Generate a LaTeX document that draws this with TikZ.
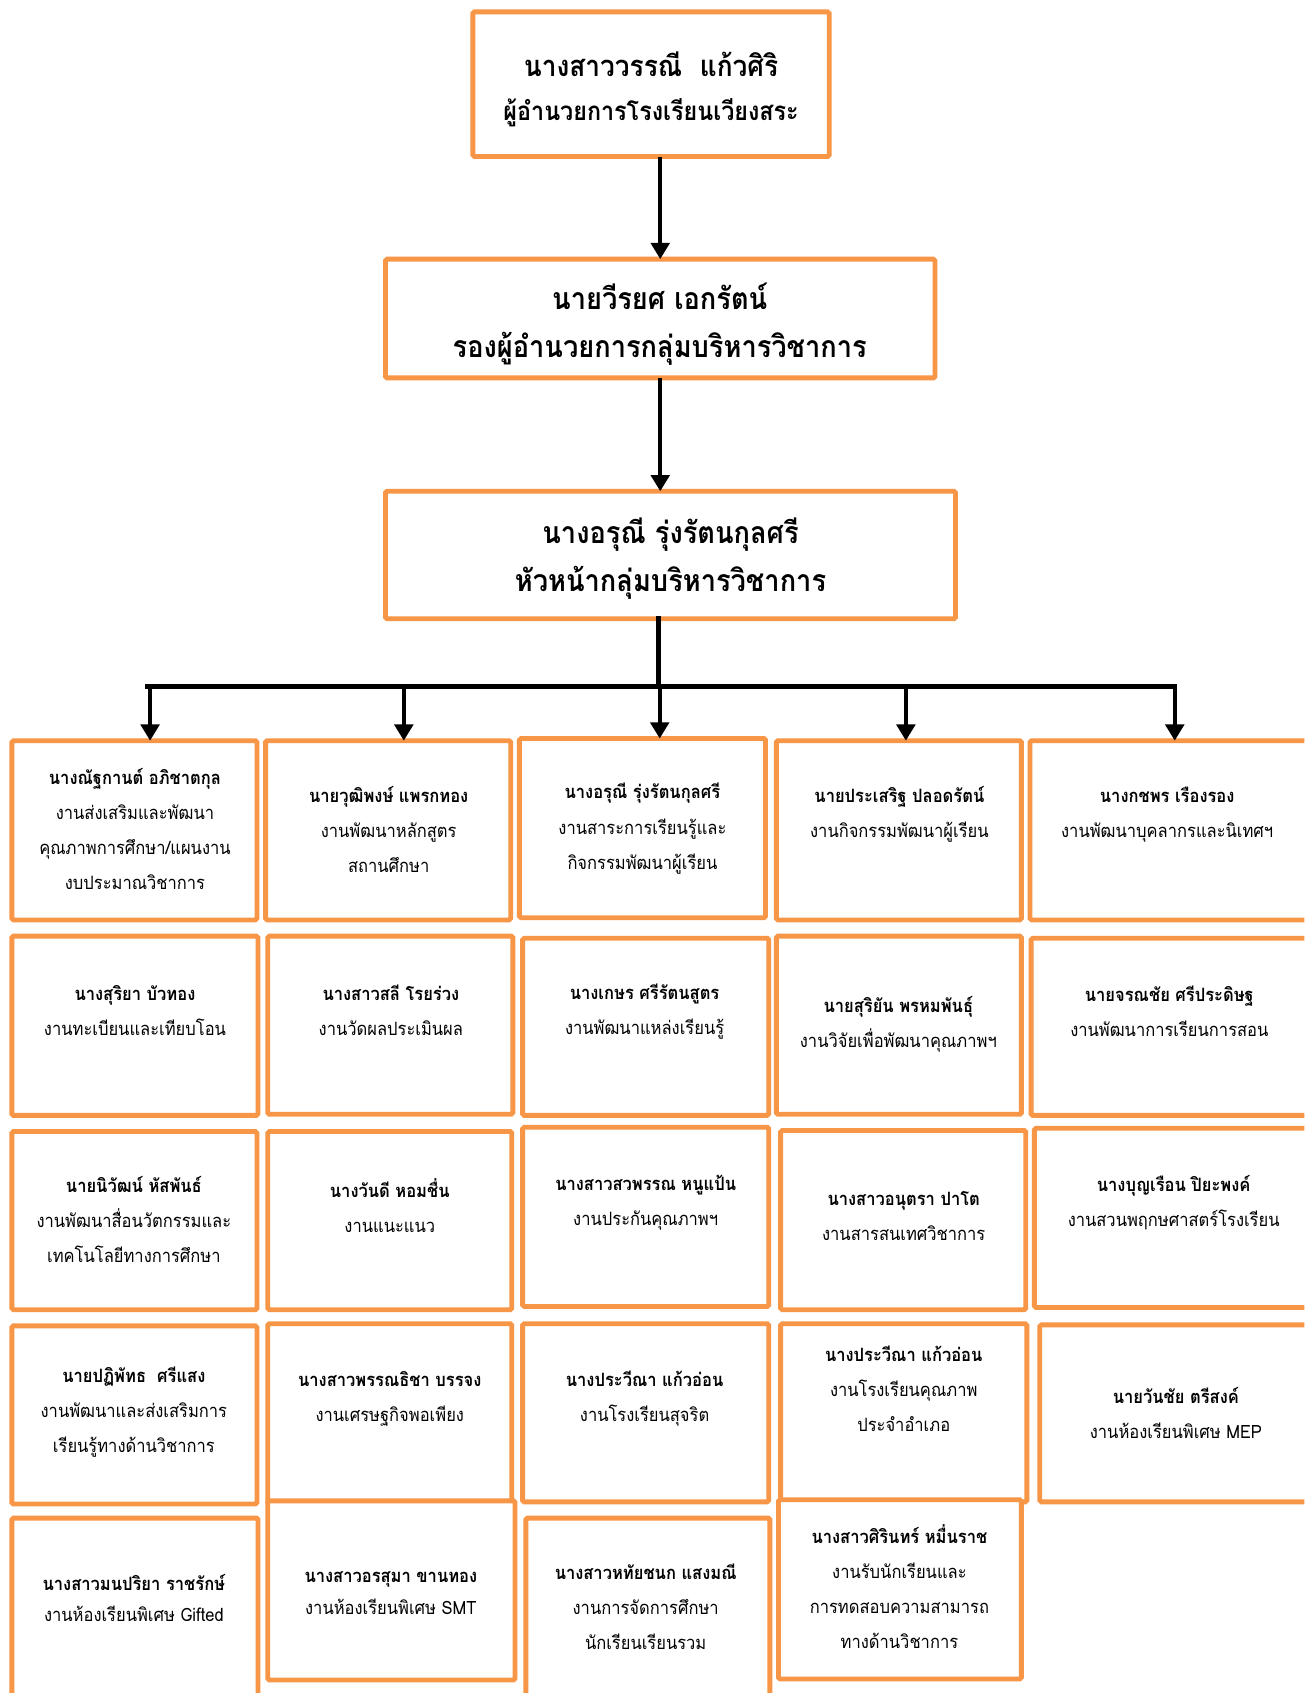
\documentclass[tikz,border=0pt]{standalone}
\usepackage{fontspec}
\newfontfamily\thaifont[Script=Thai, FakeStretch=0.9]{Loma}
\usetikzlibrary{arrows.meta,fit}
\definecolor{boxorange}{HTML}{F79646}

\tikzset{
  box/.style={draw=boxorange, line width=4.5pt, fill=white, rounded corners=1.5pt,
              inner sep=0pt, outer sep=0pt},
  head/.style={font=\thaifont\bfseries\fontsize{28}{44}\selectfont, align=center, inner sep=0pt},
  cell/.style={font=\thaifont\fontsize{17}{32.5}\selectfont, align=center, inner sep=0pt},
  wire/.style={line width=4.5pt, line cap=rect},
  arr/.style={line width=4pt, -{Triangle[width=17pt,length=15pt]}},
}
\newcommand{\who}[1]{{\bfseries #1}}

\begin{document}
\begin{tikzpicture}[x=1pt,y=-1pt]
\clip (0,0) rectangle (1208,1568);
\fill[white] (0,0) rectangle (1208,1568);

% ---- top of the chain ----
\node[box, fit={(438,11) (768,145)}] (b1) {};
\node[head, font=\thaifont\bfseries\fontsize{27}{41}\selectfont] (t1) at (603,82.5)
  {นางสาววรรณี\ \ แก้วศิริ\\{\fontsize{24}{41}\selectfont ผู้อำนวยการโรงเรียนเวียงสระ}};

\node[box, fit={(357,240) (866,350)}] (b2) {};
\node[head] (t2) at (611,300) {นายวีรยศ เอกรัตน์\\รองผู้อำนวยการกลุ่มบริหารวิชาการ};

\node[box, fit={(357,455) (885,573)}] (b3) {};
\node[head, font=\thaifont\bfseries\fontsize{28}{45}\selectfont] (t3) at (621,517.5) {นางอรุณี รุ่งรัตนกุลศรี\\หัวหน้ากลุ่มบริหารวิชาการ};

\draw[arr] (b2.north |- b1.south) -- (b2.north);
\draw[arr] (b2.south) -- (b2.south |- b3.north);

% ---- row 1 ----
\node[box, fit={(11,686) (238,852)}] (r1c1) {};
\node[cell] (u11) at (125,767.5) {\who{นางณัฐกานต์ อภิชาตกุล}\\งานส่งเสริมและพัฒนา\\คุณภาพการศึกษา/แผนงาน\\งบประมาณวิชาการ};
\node[box, fit={(246,686) (473,852)}] (r1c2) {};
\node[cell] (u12) at (360,768) {\who{นายวุฒิพงษ์ แพรกทอง}\\งานพัฒนาหลักสูตร\\สถานศึกษา};
\node[box, fit={(481,684) (709,850)}] (r1c3) {};
\node[cell] (u13) at (595,767.5) {\who{นางอรุณี รุ่งรัตนกุลศรี}\\งานสาระการเรียนรู้และ\\กิจกรรมพัฒนาผู้เรียน};
\node[box, fit={(719,686) (946,852)}] (r1c4) {};
\node[cell] (u14) at (833,754.5) {\who{นายประเสริฐ ปลอดรัตน์}\\งานกิจกรรมพัฒนาผู้เรียน};
\node[box, fit={(954,686) (1230,852)}] (r1c5) {};
\node[cell] (u15) at (1081,754.5) {\who{นางกชพร เรืองรอง}\\งานพัฒนาบุคลากรและนิเทศฯ};

% ---- bus from the head of the group ----
\coordinate (hub) at (610,636);
\coordinate (busL) at (137,636);
\coordinate (busR) at (1088,636);
\coordinate (d1) at (139,636);
\coordinate (d2) at (374,636);
\coordinate (d3) at (611,636);
\coordinate (d4) at (839,636);
\coordinate (d5) at (1088,636);
\draw[wire] (hub |- b3.south) -- (hub);
\draw[wire] (busL) -- (busR);
\draw[arr] (d1) -- (d1 |- r1c1.north);
\draw[arr] (d2) -- (d2 |- r1c2.north);
\draw[arr] (d3) -- (d3 |- r1c3.north);
\draw[arr] (d4) -- (d4 |- r1c4.north);
\draw[arr] (d5) -- (d5 |- r1c5.north);

% ---- row 2 ----
\node[box, fit={(11,867) (239,1033)}] (r2c1) {};
\node[cell] (u21) at (125,936) {\who{นางสุริยา บัวทอง}\\งานทะเบียนและเทียบโอน};
\node[box, fit={(248,867) (475,1032)}] (r2c2) {};
\node[cell] (u22) at (362,936) {\who{นางสาวสลี โรยร่วง}\\งานวัดผลประเมินผล};
\node[box, fit={(484,869) (712,1033)}] (r2c3) {};
\node[cell] (u23) at (597,936.5) {\who{นางเกษร ศรีรัตนสูตร}\\งานพัฒนาแหล่งเรียนรู้};
\node[box, fit={(719,867) (946,1032)}] (r2c4) {};
\node[cell] (u24) at (832,949) {\who{นายสุริยัน พรหมพันธุ์}\\งานวิจัยเพื่อพัฒนาคุณภาพฯ};
\node[box, fit={(955,869) (1230,1033)}] (r2c5) {};
\node[cell] (u25) at (1083,936.5) {\who{นายจรณชัย ศรีประดิษฐ}\\งานพัฒนาการเรียนการสอน};

% ---- row 3 ----
\node[box, fit={(11,1048) (238,1213)}] (r3c1) {};
\node[cell] (u31) at (124,1129.5) {\who{นายนิวัฒน์ หัสพันธ์}\\งานพัฒนาสื่อนวัตกรรมและ\\เทคโนโลยีทางการศึกษา};
\node[box, fit={(248,1048) (474,1213)}] (r3c2) {};
\node[cell] (u32) at (361,1116.5) {\who{นางวันดี หอมชื่น}\\งานแนะแนว};
\node[box, fit={(484,1044) (712,1210)}] (r3c3) {};
\node[cell] (u33) at (598,1113.5) {\who{นางสาวสวพรรณ หนูแป้น}\\งานประกันคุณภาพฯ};
\node[box, fit={(723,1047) (950,1213)}] (r3c4) {};
\node[cell] (u34) at (837,1126.5) {\who{นางสาวอนุตรา ปาโต}\\งานสารสนเทศวิชาการ};
\node[box, fit={(958,1045) (1230,1211)}] (r3c5) {};
\node[cell] (u35) at (1087,1114) {\who{นางบุญเรือน ปิยะพงค์}\\งานสวนพฤกษศาสตร์โรงเรียน};

% ---- row 4 ----
\node[box, fit={(11,1228) (238,1393)}] (r4c1) {};
\node[cell] (u41) at (124,1308) {\who{นายปฏิพัทธ\ \ ศรีแสง}\\งานพัฒนาและส่งเสริมการ\\เรียนรู้ทางด้านวิชาการ};
\node[box, fit={(248,1226) (474,1393)}] (r4c2) {};
\node[cell] (u42) at (361,1295.5) {\who{นางสาวพรรณธิชา บรรจง}\\งานเศรษฐกิจพอเพียง};
\node[box, fit={(484,1226) (712,1391)}] (r4c3) {};
\node[cell] (u43) at (597,1295.5) {\who{นางประวีณา แก้วอ่อน}\\งานโรงเรียนสุจริต};
\node[box, fit={(723,1226) (951,1391)}] (r4c4) {};
\node[cell] (u44) at (837,1286.5) {\who{นางประวีณา แก้วอ่อน}\\งานโรงเรียนคุณภาพ\\ประจำอำเภอ};
\node[box, fit={(963,1227) (1230,1391)}] (r4c5) {};
\node[cell] (u45) at (1089,1308.5) {\who{นายวันชัย ตรีสงค์}\\งานห้องเรียนพิเศษ MEP};

% ---- row 5 ----
\node[box, fit={(11,1406) (239,1600)}] (r5c1) {};
\node[cell, font=\thaifont\fontsize{17}{28}\selectfont] (u51) at (124,1480) {\who{นางสาวมนปริยา ราชรักษ์}\\งานห้องเรียนพิเศษ Gifted};
\node[box, fit={(248,1390) (477,1556)}] (r5c2) {};
\node[cell, font=\thaifont\fontsize{17}{29}\selectfont] (u52) at (362,1475.5) {\who{นางสาวอรสุมา ขานทอง}\\งานห้องเรียนพิเศษ SMT};
\node[box, fit={(487,1406) (713,1600)}] (r5c3) {};
\node[cell] (u53) at (598,1488) {\who{นางสาวหทัยชนก แสงมณี}\\งานการจัดการศึกษา\\นักเรียนเรียนรวม};
\node[box, fit={(721,1389) (946,1555)}] (r5c4) {};
\node[cell] (u54) at (833,1469.5) {\who{นางสาวศิรินทร์ หมื่นราช}\\งานรับนักเรียนและ\\การทดสอบความสามารถ\\ทางด้านวิชาการ};
\end{tikzpicture}
\end{document}
